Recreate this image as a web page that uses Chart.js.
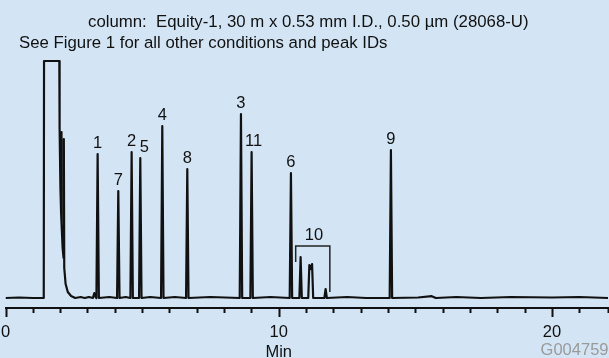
<!DOCTYPE html>
<html>
<head>
<meta charset="utf-8">
<script src="https://cdn.jsdelivr.net/npm/chart.js@4.4.1/dist/chart.umd.min.js"></script>
<style>
html, body { margin: 0; padding: 0; background: #d3e5f5; }
canvas { display: block; }
</style>
</head>
<body>
<canvas id="chrom" width="609" height="358"></canvas>
<script>
// detector trace, [minutes, signal]
const trace = [
  [0, 0], [0.5, 0.5], [1.0, 0], [1.40, 0],
  [1.41, 237], [1.97, 237], [1.98, 170], [2.01, 110], [2.035, 85], [2.045, 166], [2.055, 75],
  [2.09, 50], [2.125, 40], [2.135, 159], [2.15, 30], [2.20, 14], [2.28, 6], [2.40, 2], [2.55, 0],
  [2.75, 1], [2.9, 0], [3.05, 1], [3.20, 0], [3.25, 5], [3.30, 1],
  [3.327, 0], [3.372, 144], [3.417, 0], [3.8, 1],
  [4.083, 0], [4.128, 107], [4.173, 0], [4.40, 1],
  [4.571, 0], [4.616, 146], [4.661, 0],
  [4.888, 0], [4.933, 140], [4.978, 0], [5.3, 1],
  [5.693, 0], [5.738, 172], [5.783, 0], [6.2, 1],
  [6.608, 0], [6.653, 129], [6.698, 0], [7.5, 1],
  [8.572, 0], [8.617, 184], [8.662, 0],
  [8.962, 0], [9.007, 146], [9.052, 0], [9.7, 1],
  [10.401, 0], [10.446, 125], [10.491, 0],
  [10.755, 0], [10.80, 41], [10.845, 0],
  [11.08, 0], [11.12, 33], [11.17, 29], [11.22, 34], [11.26, 0],
  [11.67, 0], [11.716, 9], [11.76, 0], [12.5, 1], [13.2, 0],
  [14.06, 0], [14.105, 148], [14.15, 0],
  [15.1, 0.5], [15.6, 1.8], [15.75, 0], [16.5, 1], [17.4, 0], [18.5, 1], [20, 0.5], [21, 1], [22.05, 0]
];

// peak labels and where they sit (minutes, signal at apex)
const peakLabels = ['1', '7', '2', '5', '4', '8', '3', '11', '6', '10', '9'];
const peakTimes = [3.372, 4.128, 4.616, 4.933, 5.738, 6.653, 8.617, 9.007, 10.446, 11.29, 14.105];
const peakHeights = [144, 107, 146, 140, 172, 129, 184, 146, 125, 52, 148];

// bracket grouping the peak 10 cluster
const bracketTimes = [10.62, 10.62, 11.87, 11.87];
const bracketSignal = [36, 52, 52, 6];

const xTicksMajor = [0, 10, 20];

const FONT = '"Liberation Sans", Arial, Helvetica, sans-serif';
const BG = '#d3e5f5';
const INK = '#111';

const decor = {
  id: 'decor',
  beforeDraw(chart) {
    const ctx = chart.ctx;
    ctx.save();
    ctx.fillStyle = BG;
    ctx.fillRect(0, 0, chart.width, chart.height);
    ctx.restore();
  },
  afterDraw(chart) {
    const ctx = chart.ctx;
    const xs = chart.scales.x, ys = chart.scales.y;
    const axisY = chart.chartArea.bottom;
    ctx.save();
    // tick marks
    ctx.strokeStyle = INK;
    ctx.lineWidth = 2;
    xs.ticks.forEach(t => {
      const px = Math.round(xs.getPixelForValue(t.value)) + 0.5;
      const len = xTicksMajor.includes(t.value) ? 9 : 5;
      ctx.beginPath();
      ctx.moveTo(px, axisY);
      ctx.lineTo(px, axisY + len);
      ctx.stroke();
    });
    // peak labels
    ctx.fillStyle = INK;
    ctx.font = '16.5px ' + FONT;
    ctx.textAlign = 'center';
    ctx.textBaseline = 'alphabetic';
    const nudge = { '5': 4, '11': 2 };
    peakLabels.forEach((lab, i) => {
      const px = xs.getPixelForValue(peakTimes[i]) + (nudge[lab] || 0);
      const py = ys.getPixelForValue(peakHeights[i]) - 6;
      ctx.fillText(lab, px, py);
    });
    // header
    ctx.font = '16.8px ' + FONT;
    ctx.textAlign = 'left';
    ctx.fillText('column:  Equity-1, 30 m x 0.53 mm I.D., 0.50 \u00b5m (28068-U)', 88, 27);
    ctx.fillText('See Figure 1 for all other conditions and peak IDs', 19, 47.5);
    // axis title under 10 min
    ctx.font = '16.5px ' + FONT;
    ctx.textAlign = 'center';
    ctx.fillText('Min', xs.getPixelForValue(10), 357);
    // figure code
    ctx.textAlign = 'right';
    ctx.fillStyle = '#9a9a9a';
    ctx.fillText('G004759', 608.5, 355);
    ctx.restore();
  }
};

new Chart(document.getElementById('chrom'), {
  type: 'line',
  data: {
    datasets: [
      {
        data: trace.map(p => ({ x: p[0], y: p[1] })),
        borderColor: INK,
        borderWidth: 2.2,
        borderJoinStyle: 'round',
        pointRadius: 0,
        tension: 0,
        fill: false
      },
      {
        data: bracketTimes.map((t, i) => ({ x: t, y: bracketSignal[i] })),
        borderColor: '#222',
        borderWidth: 1.5,
        pointRadius: 0,
        tension: 0,
        fill: false
      }
    ]
  },
  options: {
    responsive: false,
    animation: false,
    devicePixelRatio: 1,
    layout: { padding: { left: 5.5, right: 1, top: 50, bottom: 0 } },
    plugins: { legend: { display: false }, tooltip: { enabled: false }, title: { display: false } },
    scales: {
      x: {
        type: 'linear',
        min: 0,
        max: 22.05,
        grid: { display: false },
        border: { display: true, color: INK, width: 2 },
        ticks: {
          stepSize: 1,
          autoSkip: false,
          maxRotation: 0,
          padding: 7,
          color: INK,
          font: { family: FONT, size: 16.5 },
          callback: v => (xTicksMajor.includes(v) ? String(v) : '')
        },
        afterFit: s => { s.height = 50; s.paddingLeft = 0; s.paddingRight = 0; }
      },
      y: { display: false, min: -10, max: 248 }
    }
  },
  plugins: [decor]
});
</script>
</body>
</html>
